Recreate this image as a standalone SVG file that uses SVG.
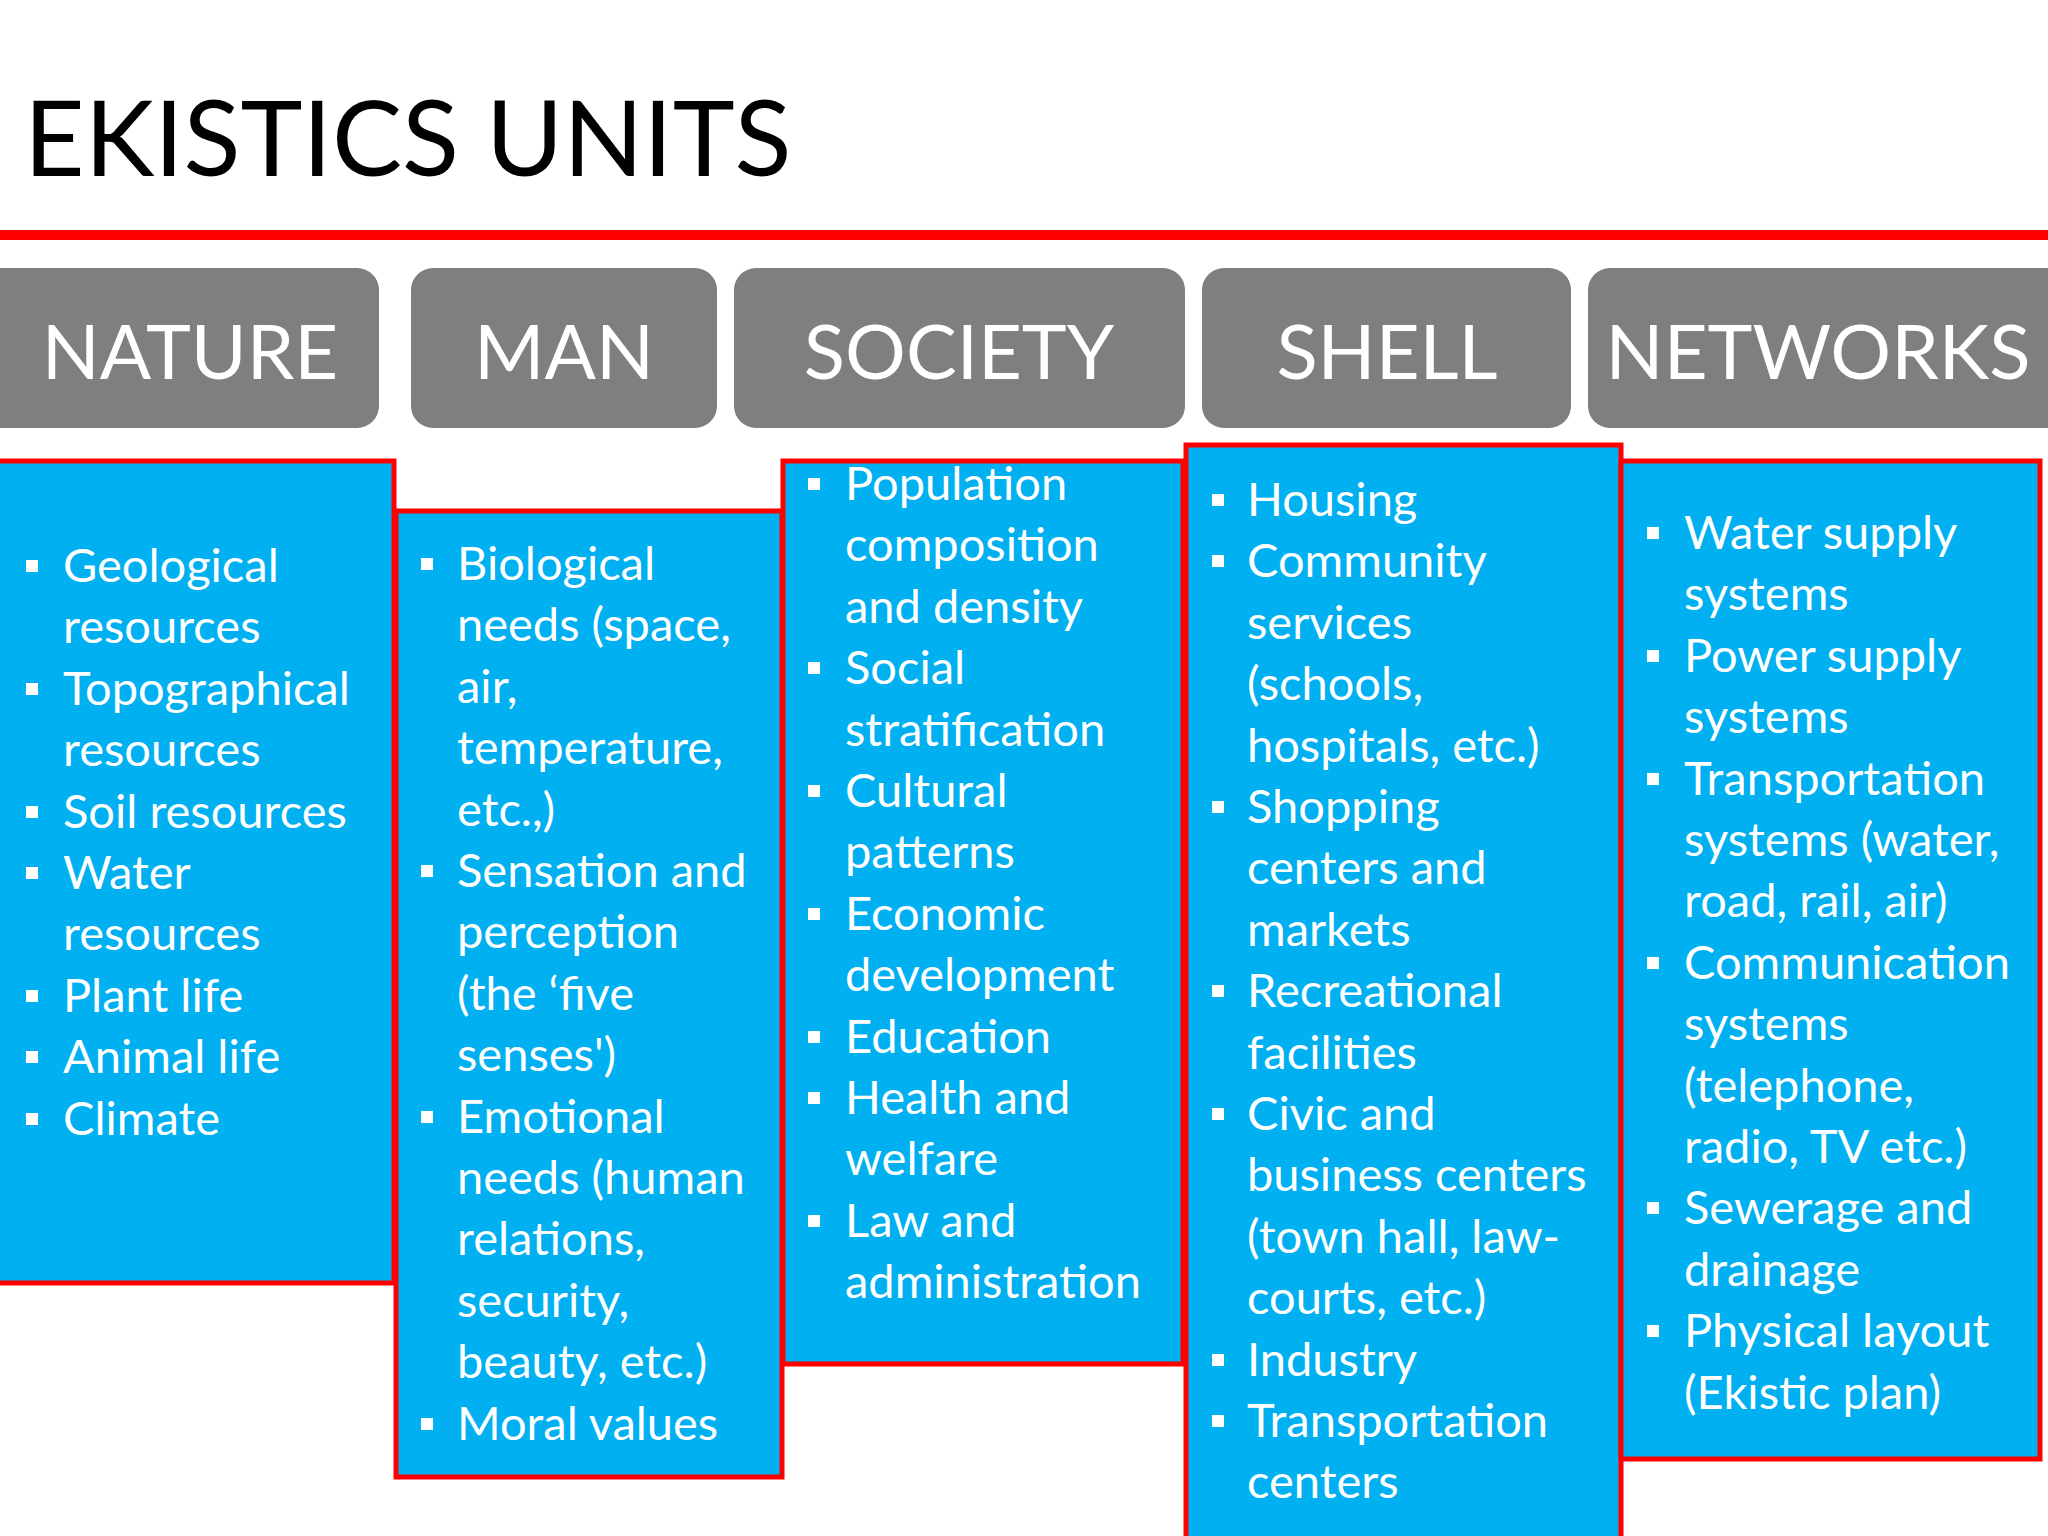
<svg xmlns="http://www.w3.org/2000/svg" width="2048" height="1536" viewBox="0 0 2048 1536">
<style>
.hdr{fill:#7f7f7f}
.ht{fill:#fff;font-family:Lato,"Noto Sans",sans-serif;font-size:76px;text-anchor:middle}
.box{fill:#00b0f0;stroke:#ff0000;stroke-width:5}
.t{fill:#fff;font-family:Lato,"Noto Sans",sans-serif;font-size:47px}
.b{fill:#fff}
</style>
<rect width="2048" height="1536" fill="#fff"/>
<text x="24" y="176" font-family="Lato,'Noto Sans',sans-serif" font-size="105" fill="#000">EKISTICS UNITS</text>
<rect x="0" y="230" width="2048" height="10" fill="#ff0000"/>
<g id="headers">
<g id="h-nature"><rect class="hdr" x="-20" y="268" width="399" height="160" rx="22"/><text class="ht" x="190" y="379">NATURE</text></g>
<g id="h-man"><rect class="hdr" x="411" y="268" width="306" height="160" rx="22"/><text class="ht" x="564" y="379">MAN</text></g>
<g id="h-society"><rect class="hdr" x="734" y="268" width="451" height="160" rx="22"/><text class="ht" x="959" y="379">SOCIETY</text></g>
<g id="h-shell"><rect class="hdr" x="1202" y="268" width="369" height="160" rx="22"/><text class="ht" x="1387" y="379">SHELL</text></g>
<g id="h-networks"><rect class="hdr" x="1588" y="268" width="480" height="160" rx="22"/><text class="ht" x="1818" y="379">NETWORKS</text></g>
</g>
<g id="nature">
<rect class="box" x="-5" y="461" width="399" height="822"/>
<g class="b"><rect x="26" y="560" width="12" height="12"/><rect x="26" y="683" width="12" height="12"/><rect x="26" y="806" width="12" height="12"/><rect x="26" y="867" width="12" height="12"/><rect x="26" y="990" width="12" height="12"/><rect x="26" y="1051" width="12" height="12"/><rect x="26" y="1113" width="12" height="12"/></g>
<text class="t" y="582"><tspan x="63">Geological</tspan><tspan x="63" dy="61.4">resources</tspan><tspan x="63" dy="61.4">Topographical</tspan><tspan x="63" dy="61.4">resources</tspan><tspan x="63" dy="61.4">Soil resources</tspan><tspan x="63" dy="61.4">Water</tspan><tspan x="63" dy="61.4">resources</tspan><tspan x="63" dy="61.4">Plant life</tspan><tspan x="63" dy="61.4">Animal life</tspan><tspan x="63" dy="61.4">Climate</tspan></text>
</g>
<g id="man">
<rect class="box" x="396" y="511" width="386" height="966"/>
<g class="b"><rect x="421" y="558" width="12" height="12"/><rect x="421" y="865" width="12" height="12"/><rect x="421" y="1111" width="12" height="12"/><rect x="421" y="1418" width="12" height="12"/></g>
<text class="t" y="580"><tspan x="457">Biological</tspan><tspan x="457" dy="61.4">needs (space,</tspan><tspan x="457" dy="61.4">air,</tspan><tspan x="457" dy="61.4">temperature,</tspan><tspan x="457" dy="61.4">etc.,)</tspan><tspan x="457" dy="61.4">Sensation and</tspan><tspan x="457" dy="61.4">perception</tspan><tspan x="457" dy="61.4">(the ‘five</tspan><tspan x="457" dy="61.4">senses')</tspan><tspan x="457" dy="61.4">Emotional</tspan><tspan x="457" dy="61.4">needs (human</tspan><tspan x="457" dy="61.4">relations,</tspan><tspan x="457" dy="61.4">security,</tspan><tspan x="457" dy="61.4">beauty, etc.)</tspan><tspan x="457" dy="61.4">Moral values</tspan></text>
</g>
<g id="society">
<rect class="box" x="783" y="461" width="400" height="903"/>
<g class="b"><rect x="808" y="478" width="12" height="12"/><rect x="808" y="662" width="12" height="12"/><rect x="808" y="785" width="12" height="12"/><rect x="808" y="908" width="12" height="12"/><rect x="808" y="1031" width="12" height="12"/><rect x="808" y="1092" width="12" height="12"/><rect x="808" y="1215" width="12" height="12"/></g>
<text class="t" y="500"><tspan x="845">Population</tspan><tspan x="845" dy="61.4">composition</tspan><tspan x="845" dy="61.4">and density</tspan><tspan x="845" dy="61.4">Social</tspan><tspan x="845" dy="61.4">stratification</tspan><tspan x="845" dy="61.4">Cultural</tspan><tspan x="845" dy="61.4">patterns</tspan><tspan x="845" dy="61.4">Economic</tspan><tspan x="845" dy="61.4">development</tspan><tspan x="845" dy="61.4">Education</tspan><tspan x="845" dy="61.4">Health and</tspan><tspan x="845" dy="61.4">welfare</tspan><tspan x="845" dy="61.4">Law and</tspan><tspan x="845" dy="61.4">administration</tspan></text>
</g>
<g id="shell">
<rect class="box" x="1186" y="445" width="435" height="1100"/>
<g class="b"><rect x="1212" y="494" width="12" height="12"/><rect x="1212" y="555" width="12" height="12"/><rect x="1212" y="801" width="12" height="12"/><rect x="1212" y="985" width="12" height="12"/><rect x="1212" y="1108" width="12" height="12"/><rect x="1212" y="1354" width="12" height="12"/><rect x="1212" y="1415" width="12" height="12"/></g>
<text class="t" y="516"><tspan x="1247">Housing</tspan><tspan x="1247" dy="61.4">Community</tspan><tspan x="1247" dy="61.4">services</tspan><tspan x="1247" dy="61.4">(schools,</tspan><tspan x="1247" dy="61.4">hospitals, etc.)</tspan><tspan x="1247" dy="61.4">Shopping</tspan><tspan x="1247" dy="61.4">centers and</tspan><tspan x="1247" dy="61.4">markets</tspan><tspan x="1247" dy="61.4">Recreational</tspan><tspan x="1247" dy="61.4">facilities</tspan><tspan x="1247" dy="61.4">Civic and</tspan><tspan x="1247" dy="61.4">business centers</tspan><tspan x="1247" dy="61.4">(town hall, law-</tspan><tspan x="1247" dy="61.4">courts, etc.)</tspan><tspan x="1247" dy="61.4">Industry</tspan><tspan x="1247" dy="61.4">Transportation</tspan><tspan x="1247" dy="61.4">centers</tspan></text>
</g>
<g id="networks">
<rect class="box" x="1621" y="461" width="419" height="998"/>
<g class="b"><rect x="1647" y="527" width="12" height="12"/><rect x="1647" y="650" width="12" height="12"/><rect x="1647" y="773" width="12" height="12"/><rect x="1647" y="957" width="12" height="12"/><rect x="1647" y="1202" width="12" height="12"/><rect x="1647" y="1325" width="12" height="12"/></g>
<text class="t" y="549"><tspan x="1684">Water supply</tspan><tspan x="1684" dy="61.4">systems</tspan><tspan x="1684" dy="61.4">Power supply</tspan><tspan x="1684" dy="61.4">systems</tspan><tspan x="1684" dy="61.4">Transportation</tspan><tspan x="1684" dy="61.4">systems (water,</tspan><tspan x="1684" dy="61.4">road, rail, air)</tspan><tspan x="1684" dy="61.4">Communication</tspan><tspan x="1684" dy="61.4">systems</tspan><tspan x="1684" dy="61.4">(telephone,</tspan><tspan x="1684" dy="61.4">radio, TV etc.)</tspan><tspan x="1684" dy="61.4">Sewerage and</tspan><tspan x="1684" dy="61.4">drainage</tspan><tspan x="1684" dy="61.4">Physical layout</tspan><tspan x="1684" dy="61.4">(Ekistic plan)</tspan></text>
</g>
</svg>
